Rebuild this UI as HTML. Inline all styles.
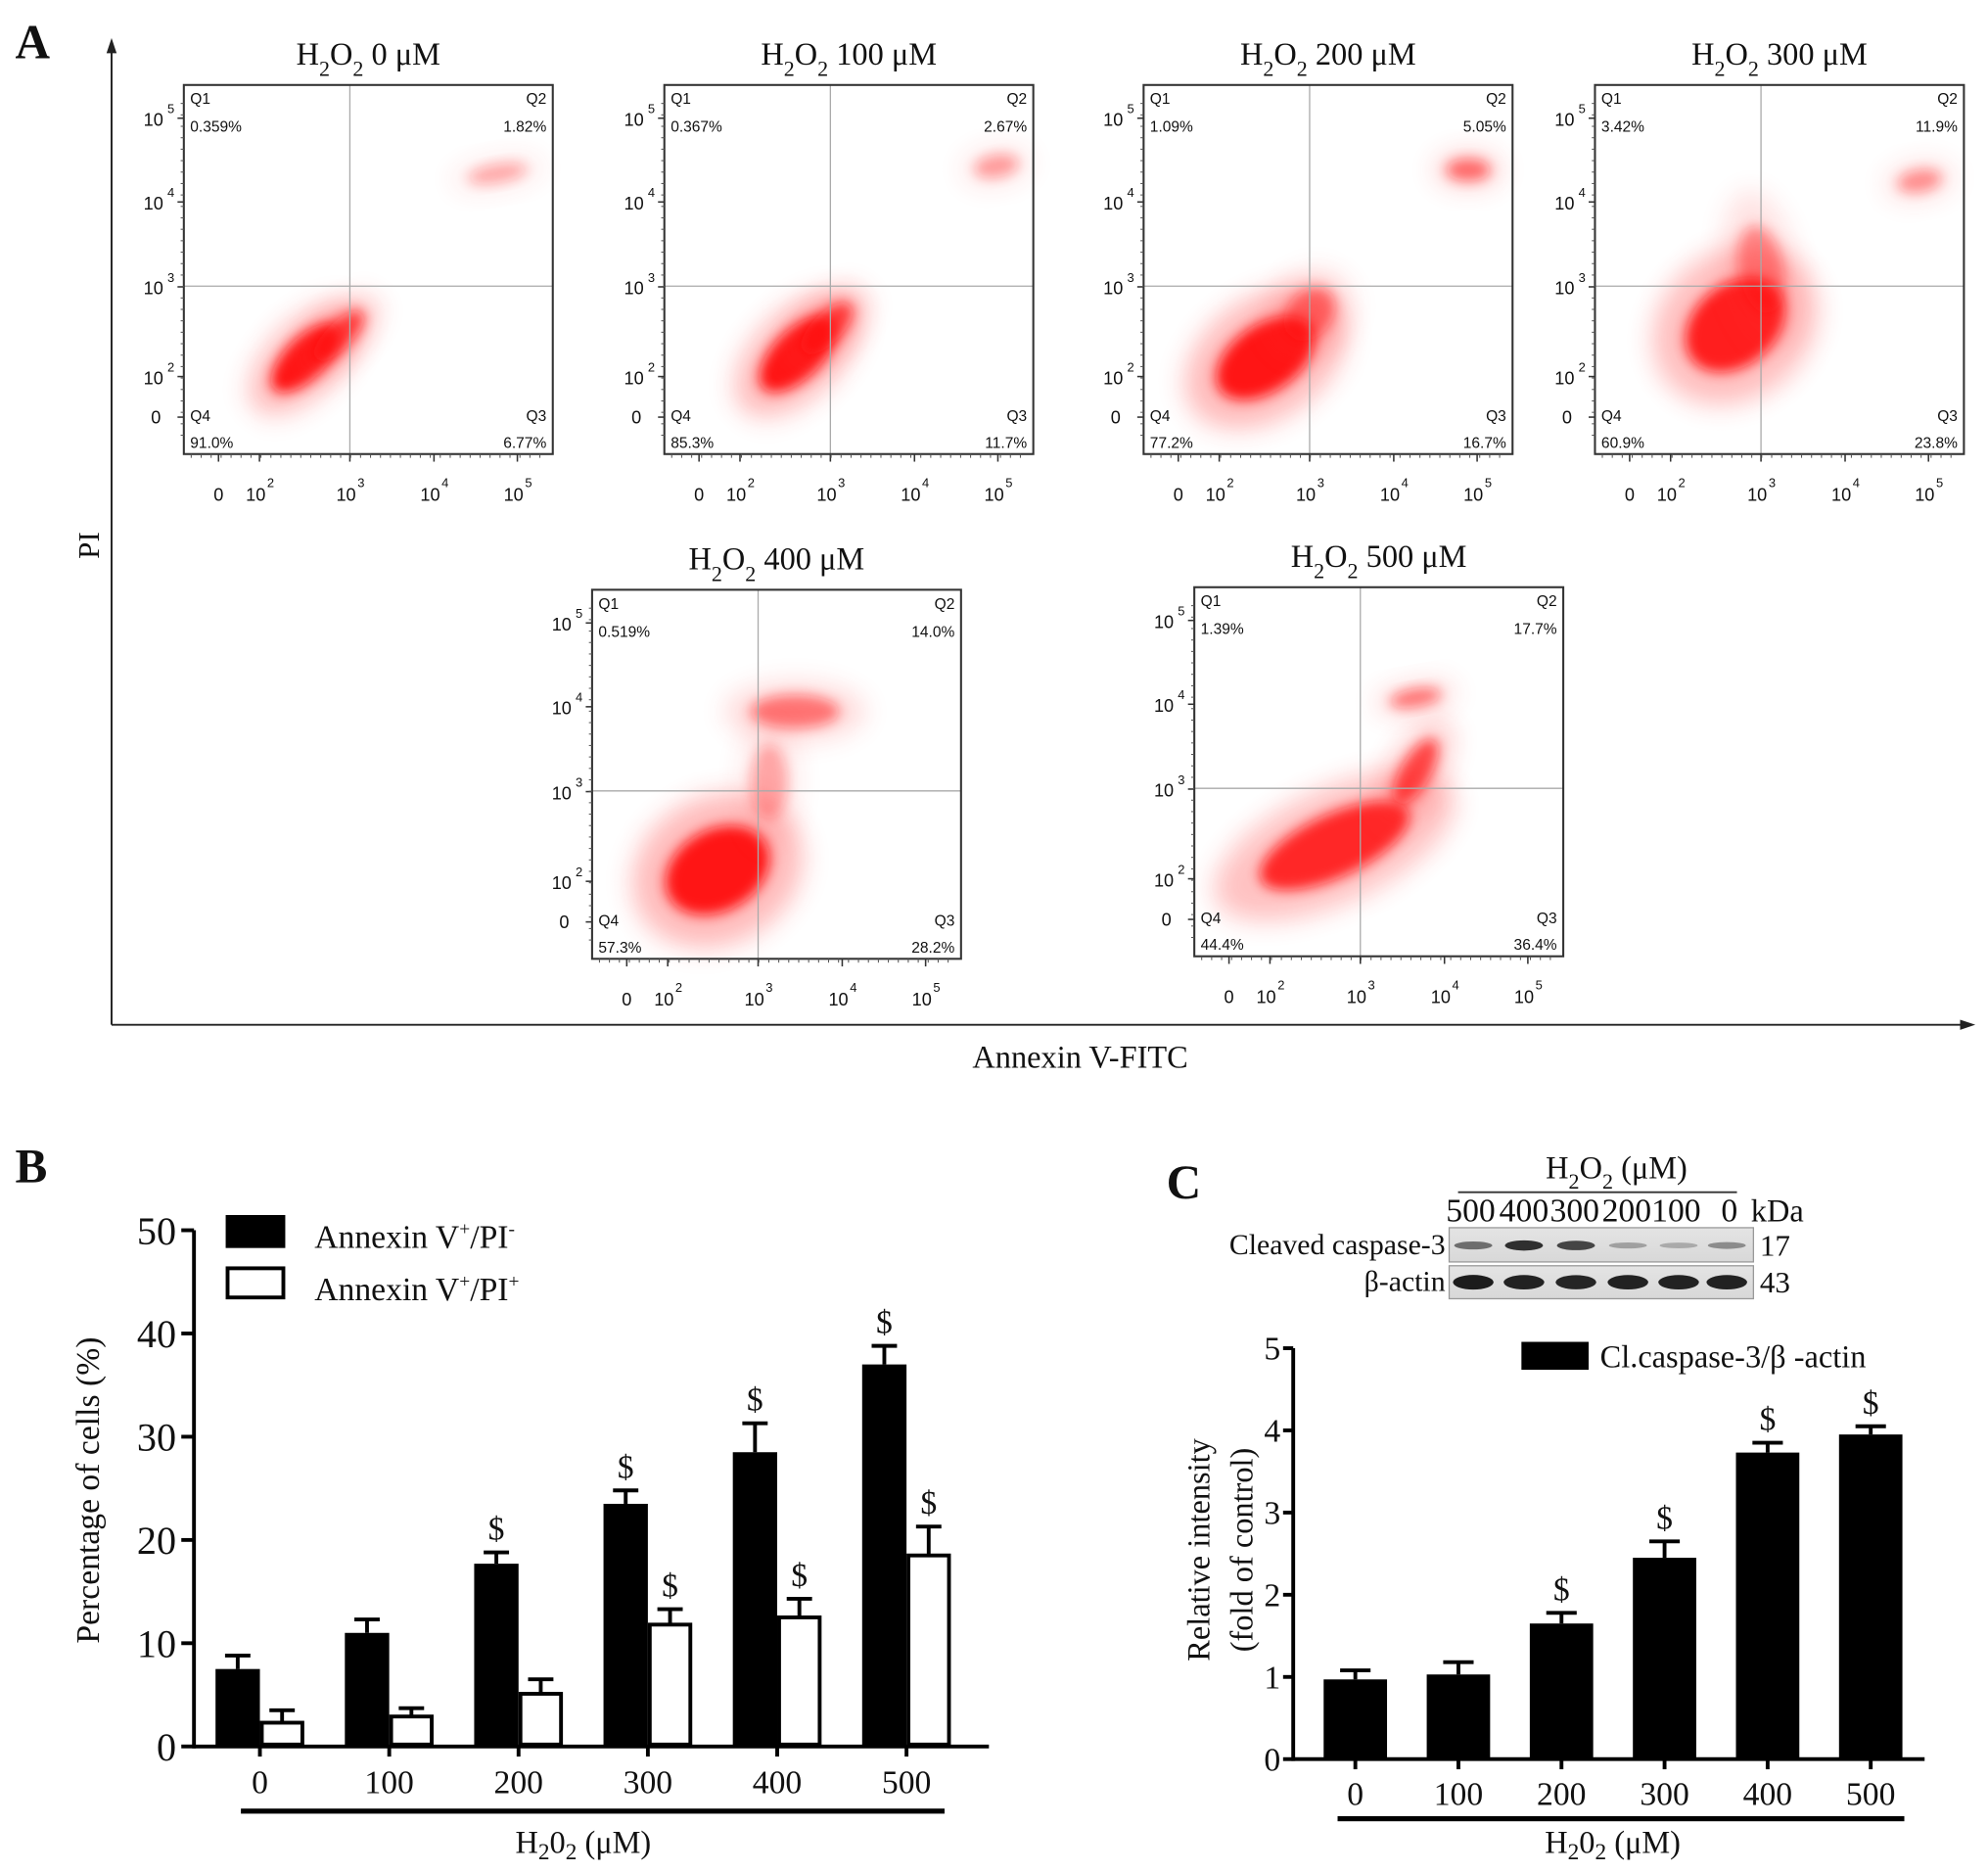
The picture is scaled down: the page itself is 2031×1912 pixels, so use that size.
<!DOCTYPE html>
<html><head><meta charset="utf-8"><style>
html,body{margin:0;padding:0;background:#fff;}
svg{display:block;}
text{font-family:"Liberation Serif",serif;fill:#111;}
.sans{font-family:"Liberation Sans",sans-serif;}
</style></head><body>
<svg id="fig" width="2031" height="1912" viewBox="0 0 1568 1476" preserveAspectRatio="none" xmlns="http://www.w3.org/2000/svg">
<defs>
<filter id="blur" x="-50%" y="-50%" width="200%" height="200%"><feGaussianBlur stdDeviation="5"/></filter>
<filter id="blur2" x="-50%" y="-50%" width="200%" height="200%"><feGaussianBlur stdDeviation="10"/></filter>
<linearGradient id="blotbg" x1="0" y1="0" x2="0" y2="1"><stop offset="0" stop-color="#e4e4e4"/><stop offset="1" stop-color="#d8d8d8"/></linearGradient>
</defs>
<text x="12" y="46" font-size="38" font-weight="bold">A</text>
<g>
<line x1="88" y1="40" x2="88" y2="808" stroke="#222" stroke-width="1.5"/>
<polygon points="88,30 84,42 92,42" fill="#222"/>
<line x1="88" y1="808" x2="1548" y2="808" stroke="#222" stroke-width="1.5"/>
<polygon points="1558,808 1546,804 1546,812" fill="#222"/>
</g>
<text x="0" y="0" font-size="24" transform="translate(78,430) rotate(-90)" text-anchor="middle">PI</text>
<text x="852" y="842" font-size="25" text-anchor="middle">Annexin V-FITC</text>
<g id="flows"></g>

<text x="12" y="932" font-size="38" font-weight="bold">B</text>
<g id="chartB"></g>

<text x="920" y="945" font-size="38" font-weight="bold">C</text>
<g id="blot"></g>
<g id="chartC"></g>
</svg>
<script>
const NS='http://www.w3.org/2000/svg';
function mk(tag,attrs,parent,txt){const e=document.createElementNS(NS,tag);for(const k in attrs)e.setAttribute(k,attrs[k]);if(txt!==undefined)e.textContent=txt;parent.appendChild(e);return e;}

const flowTitles=['0','100','200','300','400','500'];
const flowQ1=['0.359%','0.367%','1.09%','3.42%','0.519%','1.39%'];
const flowQ2=['1.82%','2.67%','5.05%','11.9%','14.0%','17.7%'];
const flowQ3=['6.77%','11.7%','16.7%','23.8%','28.2%','36.4%'];
const flowQ4=['91.0%','85.3%','77.2%','60.9%','57.3%','44.4%'];
const flowFrames=[[145,67],[524,67],[902,67],[1258,67],[467,465],[942,463]];
const flowClusters=[
 [[0.33,0.74,0.12,0.055,-45,0.95],[0.42,0.68,0.09,0.035,-45,0.7],[0.85,0.24,0.08,0.025,-10,0.3]],
 [[0.36,0.73,0.13,0.065,-45,0.95],[0.44,0.66,0.09,0.04,-45,0.7],[0.9,0.22,0.06,0.03,-10,0.35]],
 [[0.33,0.74,0.15,0.09,-35,0.95],[0.45,0.62,0.08,0.06,-50,0.5],[0.88,0.23,0.06,0.03,0,0.55]],
 [[0.38,0.65,0.15,0.11,-40,0.9],[0.45,0.5,0.06,0.12,-10,0.4],[0.88,0.26,0.06,0.03,-10,0.4]],
 [[0.34,0.76,0.15,0.11,-30,0.95],[0.55,0.33,0.12,0.045,0,0.5],[0.48,0.52,0.05,0.1,0,0.3]],
 [[0.38,0.7,0.22,0.085,-25,0.85],[0.6,0.5,0.1,0.04,-60,0.7],[0.6,0.3,0.07,0.025,-10,0.5]]
];
const flowG=document.getElementById('flows');
const W=291,H=291;
const yTickFr=[0.09,0.317,0.547,0.79,0.90], yTickLab=['5','4','3','2',null];
const xTickFr=[0.094,0.205,0.45,0.678,0.904], xTickLab=[null,'2','3','4','5'];
flowFrames.forEach((f,i)=>{
  const [x0,y0]=f;
  const g=mk('g',{},flowG);
  
  
  const t=mk('text',{x:x0+W/2,y:y0-16,'font-size':25,'text-anchor':'middle'},g);
  
  
  mk('tspan',{},t,'H');mk('tspan',{dy:9,'font-size':17},t,'2');mk('tspan',{dy:-9},t,'O');mk('tspan',{dy:9,'font-size':17},t,'2');mk('tspan',{dy:-9},t,' '+flowTitles[i]+' μM');
  const cg=mk('g',{},g);
  flowClusters[i].forEach(c=>{
    const cx=x0+c[0]*W, cy=y0+c[1]*H;
    const halo=mk('ellipse',{cx:cx,cy:cy,rx:c[2]*W*1.6,ry:c[3]*H*1.8,fill:'#ff3030',opacity:c[5]*0.35,filter:'url(#blur2)',transform:`rotate(${c[4]} ${cx} ${cy})`},cg);
    
    
    const core=mk('ellipse',{cx:cx,cy:cy,rx:c[2]*W,ry:c[3]*H,fill:'#ff1010',opacity:c[5],filter:'url(#blur)',transform:`rotate(${c[4]} ${cx} ${cy})`},cg);
    
    
  });
  mk('line',{x1:x0+0.45*W,y1:y0,x2:x0+0.45*W,y2:y0+H,stroke:'#aaa','stroke-width':1},g);
  mk('line',{x1:x0,y1:y0+0.545*H,x2:x0+W,y2:y0+0.545*H,stroke:'#aaa','stroke-width':1},g);
  const fr=mk('rect',{x:x0,y:y0,width:W,height:H,fill:'none',stroke:'#333','stroke-width':1.6},g);
  
  
  const ql=[['Q1',flowQ1[i],x0+5,y0+15,y0+37,'start'],['Q2',flowQ2[i],x0+W-5,y0+15,y0+37,'end'],['Q4',flowQ4[i],x0+5,y0+H-26,y0+H-5,'start'],['Q3',flowQ3[i],x0+W-5,y0+H-26,y0+H-5,'end']];
  ql.forEach(q=>{
    mk('text',{x:q[2],y:q[3],'font-size':12,'text-anchor':q[5],class:'sans',fill:'#333'},g,q[0]);
    const p=mk('text',{x:q[2],y:q[4],'font-size':12,'text-anchor':q[5],class:'sans',fill:'#333'},g,q[1]);
    
    
  });
  yTickFr.forEach((fy,k)=>{
    const yy=y0+fy*H;
    mk('line',{x1:x0-5,y1:yy,x2:x0,y2:yy,stroke:'#333','stroke-width':1.2},g);
    if(yTickLab[k]){mk('text',{x:x0-24,y:yy+6,'font-size':14,'text-anchor':'middle',class:'sans'},g,'10');mk('text',{x:x0-13,y:yy-4,'font-size':10,class:'sans'},g,yTickLab[k]);}
    else mk('text',{x:x0-22,y:yy+5,'font-size':14,'text-anchor':'middle',class:'sans'},g,'0');
  });
  for(let k=0;k<30;k++){const yy=y0+0.05*H+k*0.031*H;mk('line',{x1:x0-2.5,y1:yy,x2:x0,y2:yy,stroke:'#555','stroke-width':0.8},g);}
  xTickFr.forEach((fx,k)=>{
    const xx=x0+fx*W;
    mk('line',{x1:xx,y1:y0+H,x2:xx,y2:y0+H+6,stroke:'#333','stroke-width':1.2},g);
    if(xTickLab[k]){mk('text',{x:xx-3,y:y0+H+37,'font-size':14,'text-anchor':'middle',class:'sans'},g,'10');mk('text',{x:xx+6,y:y0+H+26,'font-size':10,class:'sans'},g,xTickLab[k]);}
    else mk('text',{x:xx,y:y0+H+37,'font-size':14,'text-anchor':'middle',class:'sans'},g,'0');
  });
  for(let k=0;k<36;k++){const xx=x0+0.02*W+k*0.027*W;mk('line',{x1:xx,y1:y0+H,x2:xx,y2:y0+H+3,stroke:'#555','stroke-width':0.8},g);}
});

const bCats=['0','100','200','300','400','500'];
const bBlack=[7.5,11.0,17.7,23.5,28.5,37.0];
const bBlackErr=[1.3,1.3,1.1,1.3,2.8,1.8];
const bWhite=[2.3,2.9,5.1,11.8,12.5,18.5];
const bWhiteErr=[1.2,0.8,1.4,1.5,1.8,2.8];
const bBlackSig=[false,false,true,true,true,true];
const bWhiteSig=[false,false,false,true,true,true];
const bTicks=[0,10,20,30,40,50];
(function(){
  const g=document.getElementById('chartB');
  const ax0=153, ay0=1377, ayTop=970, axEnd=780, yMax=50;
  const yS=v=>ay0-(v/yMax)*(ay0-ayTop);
  const xC=i=>205+i*102;
  const bw=35;
  bCats.forEach((c,i)=>{
    const xc=xC(i);
    mk('line',{x1:xc-bw/2,y1:yS(bBlack[i]),x2:xc-bw/2,y2:yS(bBlack[i]+bBlackErr[i]),stroke:'#000','stroke-width':3},g);
    mk('line',{x1:xc-bw/2-10,y1:yS(bBlack[i]+bBlackErr[i]),x2:xc-bw/2+10,y2:yS(bBlack[i]+bBlackErr[i]),stroke:'#000','stroke-width':3},g);
    const r1=mk('rect',{x:xc-bw,y:yS(bBlack[i]),width:bw,height:ay0-yS(bBlack[i]),fill:'#000'},g);
    
    
    mk('line',{x1:xc+bw/2,y1:yS(bWhite[i]),x2:xc+bw/2,y2:yS(bWhite[i]+bWhiteErr[i]),stroke:'#000','stroke-width':3},g);
    mk('line',{x1:xc+bw/2-10,y1:yS(bWhite[i]+bWhiteErr[i]),x2:xc+bw/2+10,y2:yS(bWhite[i]+bWhiteErr[i]),stroke:'#000','stroke-width':3},g);
    const r2=mk('rect',{x:xc+1.5,y:yS(bWhite[i]),width:bw-3,height:ay0-yS(bWhite[i])-1.5,fill:'#fff',stroke:'#000','stroke-width':3},g);
    
    
    if(bBlackSig[i]){const s=mk('text',{x:xc-bw/2,y:yS(bBlack[i]+bBlackErr[i])-10,'font-size':26,'text-anchor':'middle'},g,'$');}
    if(bWhiteSig[i]){const s=mk('text',{x:xc+bw/2,y:yS(bWhite[i]+bWhiteErr[i])-10,'font-size':26,'text-anchor':'middle'},g,'$');}
    mk('line',{x1:xc,y1:ay0,x2:xc,y2:ay0+8,stroke:'#000','stroke-width':3},g);
    const tl=mk('text',{x:xc,y:ay0+37,'font-size':26,'text-anchor':'middle'},g,c);
    
    
  });
  bTicks.forEach(v=>{
    mk('line',{x1:ax0-10,y1:yS(v),x2:ax0,y2:yS(v),stroke:'#000','stroke-width':3},g);
    const t=mk('text',{x:ax0-14,y:yS(v)+11,'font-size':31,'text-anchor':'end'},g,String(v));
    
    
  });
  const ya=mk('line',{x1:ax0,y1:ayTop,x2:ax0,y2:ay0+1.5,stroke:'#000','stroke-width':3},g);
  
  const xa=mk('line',{x1:ax0,y1:ay0,x2:axEnd,y2:ay0,stroke:'#000','stroke-width':3},g);
  
  const yt=mk('text',{'font-size':26,'text-anchor':'middle',transform:'translate(78,1175) rotate(-90)'},g,'Percentage of cells (%)');
  
  mk('rect',{x:190,y:1426,width:555,height:4,fill:'#000'},g);
  const xt=mk('text',{x:460,y:1461,'font-size':25,'text-anchor':'middle'},g);
  
  mk('tspan',{},xt,'H');mk('tspan',{dy:5,'font-size':18},xt,'2');mk('tspan',{dy:-5},xt,'0');mk('tspan',{dy:5,'font-size':18},xt,'2');mk('tspan',{dy:-5},xt,' (μM)');
  const l1=mk('rect',{x:178,y:958,width:47,height:26,fill:'#000'},g);
  
  const lt1=mk('text',{x:248,y:984,'font-size':26},g);
  
  mk('tspan',{},lt1,'Annexin V');mk('tspan',{dy:-10,'font-size':15},lt1,'+');mk('tspan',{dy:10},lt1,'/PI');mk('tspan',{dy:-10,'font-size':15},lt1,'-');
  const l2=mk('rect',{x:179.5,y:1000,width:44,height:23,fill:'#fff',stroke:'#000','stroke-width':3},g);
  
  const lt2=mk('text',{x:248,y:1025,'font-size':26},g);
  
  mk('tspan',{},lt2,'Annexin V');mk('tspan',{dy:-10,'font-size':15},lt2,'+');mk('tspan',{dy:10},lt2,'/PI');mk('tspan',{dy:-10,'font-size':15},lt2,'+');
})();

const blotLanes=['500','400','300','200','100','0'];
const blotCasp=[0.55,0.85,0.75,0.3,0.25,0.4];
const blotActin=[0.95,0.92,0.9,0.92,0.92,0.92];
(function(){
  const g=document.getElementById('blot');
  const t=mk('text',{x:1275,y:929,'font-size':25,'text-anchor':'middle'},g);
  
  mk('tspan',{},t,'H');mk('tspan',{dy:8,'font-size':17},t,'2');mk('tspan',{dy:-8},t,'O');mk('tspan',{dy:8,'font-size':17},t,'2');mk('tspan',{dy:-8},t,' (μM)');
  mk('line',{x1:1150,y1:940,x2:1370,y2:940,stroke:'#333','stroke-width':1.5},g);
  const laneX=[1160,1202,1242,1283,1322,1364];
  blotLanes.forEach((l,i)=>{
    const lt=mk('text',{x:laneX[i],y:963,'font-size':26,'text-anchor':'middle'},g,l);
    
  });
  mk('text',{x:1381,y:963,'font-size':25},g,'kDa');
  const b1=mk('rect',{x:1143,y:968,width:240,height:27,fill:'url(#blotbg)',stroke:'#999','stroke-width':1},g);
  
  const b2=mk('rect',{x:1143,y:998,width:240,height:26,fill:'url(#blotbg)',stroke:'#999','stroke-width':1},g);
  
  const bandX=[1162,1202,1243,1284,1324,1362];
  bandX.forEach((x,i)=>{
    const e=mk('ellipse',{cx:x,cy:982,rx:15,ry:1.5+blotCasp[i]*3,fill:'#111',opacity:blotCasp[i]},g);
    
    const e2=mk('ellipse',{cx:x,cy:1011,rx:16,ry:2+blotActin[i]*4,fill:'#111',opacity:blotActin[i]},g);
    
  });
  mk('text',{x:1140,y:989,'font-size':23,'text-anchor':'end'},g,'Cleaved caspase-3');
  mk('text',{x:1140,y:1018,'font-size':23,'text-anchor':'end'},g,'β-actin');
  mk('text',{x:1388,y:990,'font-size':24},g,'17');
  mk('text',{x:1388,y:1019,'font-size':24},g,'43');
})();

const cCats=['0','100','200','300','400','500'];
const cVals=[0.97,1.03,1.65,2.45,3.73,3.95];
const cErr=[0.11,0.15,0.13,0.2,0.12,0.1];
const cSig=[false,false,true,true,true,true];
const cTicks=[0,1,2,3,4,5];
(function(){
  const g=document.getElementById('chartC');
  const ax0=1020, ay0=1387, ayTop=1063, axEnd=1518, yMax=5;
  const yS=v=>ay0-(v/yMax)*(ay0-ayTop);
  const xC=i=>1069+i*81.3;
  const bw=50;
  cCats.forEach((c,i)=>{
    const xc=xC(i);
    mk('line',{x1:xc,y1:yS(cVals[i]),x2:xc,y2:yS(cVals[i]+cErr[i]),stroke:'#000','stroke-width':3},g);
    mk('line',{x1:xc-12,y1:yS(cVals[i]+cErr[i]),x2:xc+12,y2:yS(cVals[i]+cErr[i]),stroke:'#000','stroke-width':3},g);
    const r=mk('rect',{x:xc-bw/2,y:yS(cVals[i]),width:bw,height:ay0-yS(cVals[i]),fill:'#000'},g);
    
    
    if(cSig[i]){const s=mk('text',{x:xc,y:yS(cVals[i]+cErr[i])-10,'font-size':26,'text-anchor':'middle'},g,'$');}
    mk('line',{x1:xc,y1:ay0,x2:xc,y2:ay0+8,stroke:'#000','stroke-width':3},g);
    const tl=mk('text',{x:xc,y:ay0+36,'font-size':26,'text-anchor':'middle'},g,c);
    
  });
  cTicks.forEach(v=>{
    mk('line',{x1:ax0-8,y1:yS(v),x2:ax0,y2:yS(v),stroke:'#000','stroke-width':3},g);
    const t=mk('text',{x:ax0-10,y:yS(v)+9,'font-size':26,'text-anchor':'end'},g,String(v));
    
  });
  const ya=mk('line',{x1:ax0,y1:ayTop,x2:ax0,y2:ay0+1.5,stroke:'#000','stroke-width':3},g);
  
  const xa=mk('line',{x1:ax0,y1:ay0,x2:axEnd,y2:ay0,stroke:'#000','stroke-width':3},g);
  
  const y1=mk('text',{'font-size':25,'text-anchor':'middle',transform:'translate(954,1222) rotate(-90)'},g,'Relative intensity');
  
  mk('text',{'font-size':25,'text-anchor':'middle',transform:'translate(988,1222) rotate(-90)'},g,'(fold of control)');
  mk('rect',{x:1055,y:1432,width:447,height:4,fill:'#000'},g);
  const xt=mk('text',{x:1272,y:1461,'font-size':25,'text-anchor':'middle'},g);
  
  mk('tspan',{},xt,'H');mk('tspan',{dy:5,'font-size':18},xt,'2');mk('tspan',{dy:-5},xt,'0');mk('tspan',{dy:5,'font-size':18},xt,'2');mk('tspan',{dy:-5},xt,' (μM)');
  const ls=mk('rect',{x:1200,y:1058,width:53,height:22,fill:'#000'},g);
  
  const lt=mk('text',{x:1262,y:1078,'font-size':25},g,'Cl.caspase-3/β -actin');
  
})();
</script>
</body></html>
